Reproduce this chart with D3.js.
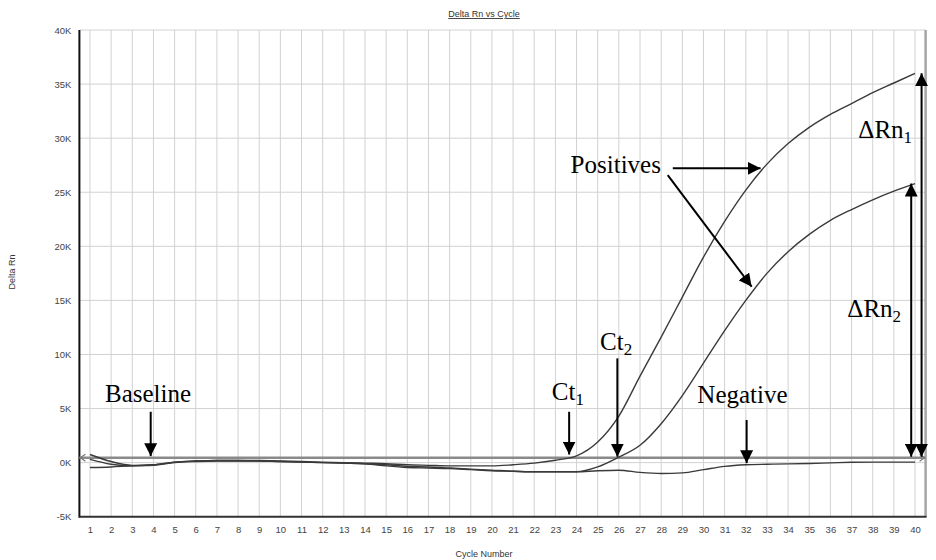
<!DOCTYPE html>
<html>
<head>
<meta charset="utf-8">
<script src="https://cdn.jsdelivr.net/npm/d3@7"></script>
<style>
  body { margin: 0; background: #fff; }
  svg { display: block; }
</style>
</head>
<body>
<svg id="chart" width="936" height="560"></svg>
<script>
// Amplification data: Delta Rn (in thousands) for each PCR cycle
const cycles = [1, 2, 3, 4, 5, 6, 7, 8, 9, 10, 11, 12, 13, 14, 15, 16, 17, 18, 19, 20,
                21, 22, 23, 24, 25, 26, 27, 28, 29, 30, 31, 32, 33, 34, 35, 36, 37, 38, 39, 40];
const positive1 = [0.75, 0.1, -0.25, -0.2, 0.05, 0.15, 0.2, 0.2, 0.2, 0.15, 0.1, 0.05, 0.0, -0.05, -0.1, -0.2, -0.25, -0.3, -0.3, -0.3,
                   -0.2, -0.05, 0.22, 0.62, 1.9, 4.3, 8.0, 11.6, 15.3, 19.0, 22.3, 25.2, 27.6, 29.5, 31.0, 32.2, 33.2, 34.2, 35.1, 36.0];
const positive2 = [0.3, -0.15, -0.3, -0.2, 0.05, 0.15, 0.2, 0.2, 0.15, 0.1, 0.05, 0.0, -0.05, -0.1, -0.3, -0.45, -0.5, -0.55, -0.65, -0.75,
                   -0.8, -0.85, -0.85, -0.85, -0.4, 0.5, 1.6, 3.6, 6.2, 9.2, 12.2, 15.0, 17.5, 19.5, 21.1, 22.4, 23.4, 24.3, 25.1, 25.8];
const negative  = [-0.45, -0.4, -0.3, -0.25, 0.0, 0.1, 0.15, 0.15, 0.15, 0.1, 0.05, 0.0, -0.05, -0.1, -0.2, -0.35, -0.4, -0.5, -0.6, -0.7,
                   -0.8, -0.85, -0.85, -0.85, -0.75, -0.7, -0.9, -1.0, -0.95, -0.65, -0.35, -0.2, -0.15, -0.12, -0.08, -0.02, 0.03, 0.05, 0.05, 0.05];
const threshold = 0.45;

const yTickValues = [-5, 0, 5, 10, 15, 20, 25, 30, 35, 40];
const yTickLabels = ["-5K", "0K", "5K", "10K", "15K", "20K", "25K", "30K", "35K", "40K"];

// Annotation callouts, placed in cycle / Delta Rn units
const textNotes = [
  { c: 1.71,  v: 5.63,  main: "Baseline", sub: "" },
  { c: 22.83, v: 5.79,  main: "Ct",       sub: "1" },
  { c: 25.11, v: 10.4,  main: "Ct",       sub: "2" },
  { c: 29.71, v: 5.54,  main: "Negative", sub: "" },
  { c: 23.72, v: 26.75, main: "Positives", sub: "" },
  { c: 37.32, v: 29.99, main: "\u0394Rn",  sub: "1" },
  { c: 36.8,  v: 13.49, main: "\u0394Rn",  sub: "2" }
];
const pointerArrows = [
  { c1: 3.87,  v1: 4.7,   c2: 3.87,  v2: 0.6 },
  { c1: 23.65, v1: 4.7,   c2: 23.65, v2: 0.75 },
  { c1: 25.93, v1: 9.64,  c2: 25.93, v2: 0.55 },
  { c1: 32.04, v1: 3.94,  c2: 32.04, v2: -0.05 },
  { c1: 28.55, v1: 27.21, c2: 32.7,  v2: 27.21 },
  { c1: 28.31, v1: 26.59, c2: 32.28, v2: 16.26 }
];
// Delta Rn spans: from the threshold to the final reading of each positive
const deltaCycles = [40.31, 39.82];

const svg = d3.select("#chart");
const W = 936, H = 560;
const margin = { top: 30, right: 10.4, bottom: 43.3, left: 79.4 };

const x = d3.scaleLinear().domain([0.5, 40.5]).range([margin.left, W - margin.right]);
const y = d3.scaleLinear().domain([-5, 40]).range([H - margin.bottom, margin.top]);

const sans = "'Liberation Sans', Arial, sans-serif";
const serif = "'Liberation Serif', 'Times New Roman', serif";

// markers
const defs = svg.append("defs");
defs.append("marker")
  .attr("id", "head").attr("viewBox", "0 0 12 12")
  .attr("refX", 12).attr("refY", 6)
  .attr("markerWidth", 13).attr("markerHeight", 13)
  .attr("markerUnits", "userSpaceOnUse")
  .attr("orient", "auto-start-reverse")
  .append("path").attr("d", "M0,0 L12,6 L0,12 Z").attr("fill", "#000");

// grid
const grid = svg.append("g");
grid.selectAll("line.v").data(cycles).join("line")
  .attr("x1", d => x(d)).attr("x2", d => x(d))
  .attr("y1", y(40)).attr("y2", y(-5))
  .attr("stroke", "#d2d2d2").attr("stroke-width", 1);
grid.selectAll("line.h").data(yTickValues).join("line")
  .attr("x1", x.range()[0]).attr("x2", x.range()[1])
  .attr("y1", d => y(d)).attr("y2", d => y(d))
  .attr("stroke", "#d2d2d2").attr("stroke-width", 1);

// right border
svg.append("line")
  .attr("x1", x.range()[1]).attr("x2", x.range()[1])
  .attr("y1", y(40)).attr("y2", y(-5))
  .attr("stroke", "#a6a6a6").attr("stroke-width", 2.5);

// axes
const yAxis = d3.axisLeft(y).tickValues(yTickValues)
  .tickFormat((d, i) => yTickLabels[i]).tickSize(0).tickPadding(8);
const gy = svg.append("g").attr("transform", `translate(${margin.left},0)`).call(yAxis);
gy.select(".domain").remove();
gy.selectAll("text").attr("font-family", sans).attr("font-size", 9.5).attr("fill", "#444");

const xAxis = d3.axisBottom(x).tickValues(cycles).tickFormat(d3.format("d")).tickSize(0).tickPadding(10);
const gx = svg.append("g").attr("transform", `translate(0,${y(-5)})`).call(xAxis);
gx.select(".domain").remove();
gx.selectAll("text").attr("font-family", sans).attr("font-size", 9.5).attr("fill", "#444");

svg.append("line")
  .attr("x1", margin.left).attr("x2", margin.left)
  .attr("y1", y(40)).attr("y2", y(-5) + 1)
  .attr("stroke", "#111").attr("stroke-width", 2);
svg.append("line")
  .attr("x1", margin.left).attr("x2", x.range()[1] + 1)
  .attr("y1", y(-5)).attr("y2", y(-5))
  .attr("stroke", "#333").attr("stroke-width", 2);

// threshold line with end chevrons
const ty = y(threshold);
svg.append("line")
  .attr("x1", x.range()[0]).attr("x2", x.range()[1])
  .attr("y1", ty).attr("y2", ty)
  .attr("stroke", "#8a8a8a").attr("stroke-width", 2.4);
svg.append("path")
  .attr("d", `M${x.range()[0] + 6},${ty - 3.5} L${x.range()[0] + 1},${ty} L${x.range()[0] + 6},${ty + 3.5}`)
  .attr("fill", "none").attr("stroke", "#777").attr("stroke-width", 1.2);
svg.append("path")
  .attr("d", `M${x.range()[1] - 6},${ty - 3.5} L${x.range()[1] - 1},${ty} L${x.range()[1] - 6},${ty + 3.5}`)
  .attr("fill", "none").attr("stroke", "#777").attr("stroke-width", 1.2);

// amplification curves
const line = d3.line().x(d => x(d.c)).y(d => y(d.v)).curve(d3.curveMonotoneX);
[negative, positive2, positive1].forEach(series => {
  svg.append("path")
    .datum(cycles.map((c, i) => ({ c, v: series[i] })))
    .attr("d", line)
    .attr("fill", "none").attr("stroke", "#3a3a3a").attr("stroke-width", 1.4);
});

// pointer arrows
svg.selectAll("line.ptr").data(pointerArrows).join("line")
  .attr("x1", d => x(d.c1)).attr("y1", d => y(d.v1))
  .attr("x2", d => x(d.c2)).attr("y2", d => y(d.v2))
  .attr("stroke", "#000").attr("stroke-width", 2)
  .attr("marker-end", "url(#head)");

// Delta Rn double-headed arrows
const finals = [positive1[positive1.length - 1], positive2[positive2.length - 1]];
svg.selectAll("line.delta").data(deltaCycles).join("line")
  .attr("x1", d => x(d)).attr("x2", d => x(d))
  .attr("y1", ty - 1).attr("y2", (d, i) => y(finals[i]))
  .attr("stroke", "#000").attr("stroke-width", 2)
  .attr("marker-start", "url(#head)").attr("marker-end", "url(#head)");

// callout text
const notes = svg.selectAll("text.note").data(textNotes).join("text")
  .attr("x", d => x(d.c)).attr("y", d => y(d.v))
  .attr("font-family", serif).attr("font-size", 25).attr("fill", "#000");
notes.append("tspan").text(d => d.main);
notes.filter(d => d.sub).append("tspan")
  .attr("font-size", 17).attr("dy", 5).text(d => d.sub);

// titles
svg.append("text").attr("x", 484).attr("y", 17).attr("text-anchor", "middle")
  .attr("font-family", sans).attr("font-size", 9).attr("fill", "#333")
  .attr("text-decoration", "underline").text("Delta Rn vs Cycle");
svg.append("text").attr("x", 484).attr("y", 557).attr("text-anchor", "middle")
  .attr("font-family", sans).attr("font-size", 9).attr("fill", "#333").text("Cycle Number");
svg.append("text").attr("transform", "translate(15,272) rotate(-90)").attr("text-anchor", "middle")
  .attr("font-family", sans).attr("font-size", 9).attr("fill", "#333").text("Delta Rn");
</script>
</body>
</html>
